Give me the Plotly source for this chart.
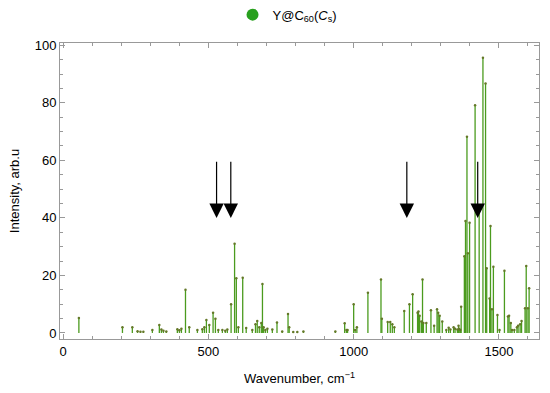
import plotly.graph_objects as go

# Stick spectrum data (wavenumber cm^-1, intensity arb.u)
wavenumber = [54, 204, 238, 256, 266, 276, 307, 331, 338, 345, 355, 393, 400, 407, 421, 434, 462, 479, 486,
              493, 503, 516, 524, 534, 548, 558, 565, 578, 590, 596, 603, 618, 630, 651, 662, 668, 675, 682,
              686, 690, 696, 703, 720, 736, 754, 774, 778, 792, 806, 827, 937, 969, 975, 979, 1000, 1005, 1011,
              1049, 1094, 1097, 1117, 1126, 1133, 1140, 1174, 1192, 1203, 1220, 1223, 1227, 1233, 1237, 1240,
              1250, 1266, 1277, 1287, 1291, 1296, 1305, 1319, 1327, 1333, 1344, 1349, 1357, 1361, 1363, 1367,
              1370, 1381, 1385, 1390, 1393, 1399, 1418, 1432, 1445, 1454, 1458, 1468, 1471, 1476, 1481, 1495,
              1502, 1519, 1531, 1535, 1541, 1545, 1553, 1562, 1566, 1573, 1578, 1590, 1594, 1600, 1604]
intensity = [5.2, 2.0, 2.0, 0.6, 0.4, 0.4, 1.0, 2.8, 1.2, 0.8, 0.5, 1.3, 0.9, 1.5, 15.0, 2.0, 1.0, 1.3, 2.0,
             4.5, 2.8, 7.0, 4.9, 1.0, 1.0, 0.8, 1.2, 10.0, 31.0, 19.0, 2.0, 19.2, 1.7, 1.0, 3.0, 4.2, 2.0, 3.5,
             17.0, 2.0, 1.0, 1.5, 1.2, 3.6, 0.5, 6.6, 2.0, 0.3, 0.3, 0.5, 0.5, 3.4, 1.0, 1.0, 10.0, 1.0, 2.0,
             14.0, 18.6, 4.9, 3.8, 3.8, 3.0, 2.0, 7.6, 10.0, 13.5, 7.0, 7.5, 6.0, 4.0, 18.6, 3.5,
             3.5, 7.9, 2.5, 8.2, 7.0, 6.0, 4.0, 1.0, 1.8, 1.2, 2.0, 1.5, 1.2, 2.5, 1.5, 1.0,
             9.1, 26.7, 38.9, 68.2, 27.7, 38.3, 79.2, 44.0, 95.7, 86.7, 22.5, 12.0, 37.2, 8.2, 23.0, 6.2,
             1.0, 21.6, 5.7, 6.0, 3.5, 1.0, 1.0, 2.0, 2.5, 3.0, 4.2, 8.6, 23.3, 8.6, 15.5]

# Arrows marking selected modes
arrow_x = [528, 577, 1183, 1427]
arrow_top = [60, 60, 60, 60]
arrow_tip = [40, 40, 40, 40]

series_name = "Y@C<sub>60</sub>(<i>C</i><sub>s</sub>)"

stick_x, stick_y = [], []
for w, h in zip(wavenumber, intensity):
    stick_x += [w, w, None]
    stick_y += [0, h, None]

fig = go.Figure()
fig.add_trace(go.Scatter(x=stick_x, y=stick_y, mode="lines",
                         line=dict(color="rgb(75,155,30)", width=1.3),
                         showlegend=False, hoverinfo="skip"))
fig.add_trace(go.Scatter(x=wavenumber, y=intensity, mode="markers",
                         marker=dict(color="rgb(100,120,40)", size=2.5),
                         showlegend=False))
fig.add_trace(go.Scatter(x=[None], y=[None], mode="markers", name=series_name,
                         marker=dict(color="rgb(40,160,30)", size=9)))

for xa, yt, yb in zip(arrow_x, arrow_top, arrow_tip):
    fig.add_annotation(x=xa, y=yb, ax=xa, ay=yt, xref="x", yref="y", axref="x", ayref="y",
                       text="", showarrow=True, arrowhead=2, arrowsize=2.4, arrowwidth=1.2,
                       arrowcolor="black")

axis_common = dict(showline=True, linecolor="#999999", linewidth=1, mirror="ticks",
                   ticks="inside", tickcolor="#999999", ticklen=5, showgrid=False,
                   zeroline=False, automargin=False, tickfont=dict(size=13, color="black"))

fig.update_xaxes(range=[-11, 1638], tickvals=[0, 500, 1000, 1500], ticktext=["0", "500", "1000", "1500"],
                 minor=dict(dtick=100, ticks="inside", ticklen=3, tickcolor="#999999"),
                 title=dict(text="Wavenumber, cm<sup>−1</sup>", font=dict(size=13, color="black"), standoff=16),
                 **axis_common)
fig.update_yaxes(range=[-2.1, 100.8], tickvals=[0, 20, 40, 60, 80, 100],
                 minor=dict(dtick=5, ticks="inside", ticklen=3, tickcolor="#999999"),
                 title=dict(text="Intensity, arb.u", font=dict(size=13, color="black"), standoff=12),
                 **axis_common)

fig.update_layout(width=550, height=393,
                  margin=dict(l=60, r=11, t=43, b=54, autoexpand=False),
                  paper_bgcolor="white", plot_bgcolor="white",
                  font=dict(family="Liberation Sans, Arial, sans-serif", size=13, color="black"),
                  legend=dict(orientation="h", x=0.475, xanchor="center", y=1.045, yanchor="bottom",
                              font=dict(size=13), itemsizing="constant"),
                  showlegend=True)

fig.write_html("out.html", config={"displayModeBar": False},
               post_script="document.body.style.margin='0';document.body.style.padding='0';")
